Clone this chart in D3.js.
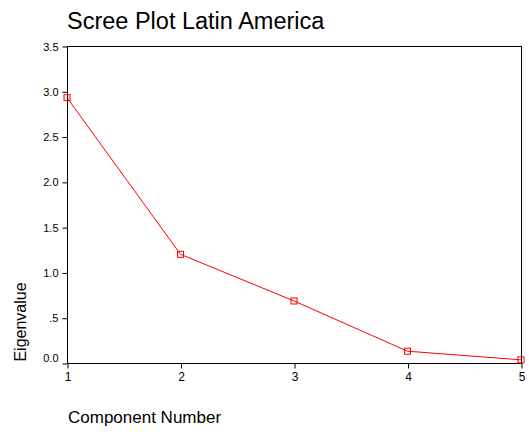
<!DOCTYPE html>
<html><head><meta charset="utf-8">
<script src="https://cdn.jsdelivr.net/npm/d3@7"></script>
<style>body{margin:0;background:#fff}svg{display:block;font-family:Arial,"Liberation Sans",sans-serif}</style>
</head><body><svg id="c" width="529" height="432"></svg>
<script>
const components = [1, 2, 3, 4, 5];
const eigenvalues = [2.93, 1.20, 0.685, 0.13, 0.035];
const yTicks = [0, 0.5, 1.0, 1.5, 2.0, 2.5, 3.0, 3.5];
const yTickLabels = ["0.0", ".5", "1.0", "1.5", "2.0", "2.5", "3.0", "3.5"];
const title = "Scree Plot Latin America";
const xTitle = "Component Number";
const yTitle = "Eigenvalue";

const svg = d3.select("#c");
const L = 67, R = 521, T = 46, B = 363;
const x = d3.scaleLinear().domain([1, 5]).range([L, R]);
const y = d3.scaleLinear().domain([0, 3.5]).range([B, T]);

// frame
svg.append("rect").attr("x", L + 0.5).attr("y", T + 0.5).attr("width", R - L).attr("height", B - T)
  .attr("fill", "none").attr("stroke", "#000").attr("stroke-width", 1);

const yAxis = d3.axisLeft(y).tickValues(yTicks).tickSize(5).tickPadding(4)
  .tickFormat((d, i) => yTickLabels[i]);
const gy = svg.append("g").attr("transform", `translate(${L + 0.5},0.5)`).call(yAxis);
gy.select(".domain").remove();
gy.selectAll("text").attr("font-size", 11).attr("font-family", "Arial,'Liberation Sans',sans-serif").attr("fill", "#000")
  .attr("dy", d => d === 0 ? "-0.15em" : "0.32em");

const xAxis = d3.axisBottom(x).tickValues(components).tickSize(5).tickPadding(4).tickFormat(d3.format("d"));
const gx = svg.append("g").attr("transform", `translate(0.5,${B + 0.5})`).call(xAxis);
gx.select(".domain").remove();
gx.selectAll("text").attr("font-size", 12).attr("font-family", "Arial,'Liberation Sans',sans-serif").attr("fill", "#000");

const line = d3.line().x((d, i) => x(components[i])).y(d => y(d));
svg.append("path").datum(eigenvalues).attr("d", line).attr("fill", "none")
  .attr("stroke", "#ff0000").attr("stroke-width", 1);

svg.selectAll("rect.pt").data(eigenvalues).enter().append("rect").attr("class", "pt")
  .attr("x", (d, i) => x(components[i]) - 3).attr("y", d => y(d) - 3)
  .attr("width", 6).attr("height", 6).attr("fill", "none").attr("stroke", "#ff0000").attr("stroke-width", 1);

svg.append("text").attr("x", 67).attr("y", 29).attr("font-size", 23.5).attr("fill", "#000").text(title);
svg.append("text").attr("x", 68).attr("y", 423).attr("font-size", 17).attr("fill", "#000").text(xTitle);
svg.append("text").attr("transform", "translate(26,322) rotate(-90)").attr("text-anchor", "middle")
  .attr("font-size", 16).attr("fill", "#000").text(yTitle);
</script></body></html>
